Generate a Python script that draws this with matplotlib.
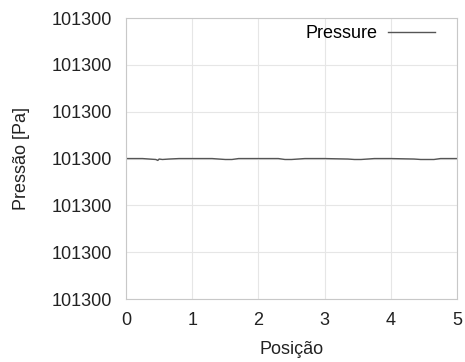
import matplotlib
matplotlib.use("Agg")
import matplotlib.pyplot as plt
import numpy as np

# pressure along the domain (Pa), nearly constant at 101300
posicao = [0.0, 0.25, 0.35, 0.45, 0.48, 0.5, 0.55, 0.65, 0.8, 1.0, 1.3, 1.4, 1.5,
           1.6, 1.7, 2.0, 2.3, 2.4, 2.5, 2.6, 2.7, 3.0, 3.35, 3.45, 3.55, 3.65,
           3.75, 4.0, 4.35, 4.45, 4.55, 4.65, 4.75, 5.0]
pressao = [101300.00000, 101300.00000, 101299.99999, 101299.99998, 101299.99996,
           101299.99999, 101299.99998, 101299.99999, 101300.00000, 101300.00000,
           101300.00000, 101299.99999, 101299.99998, 101299.99998, 101300.00000,
           101300.00000, 101300.00000, 101299.99998, 101299.99998, 101299.99999,
           101300.00000, 101300.00000, 101299.99999, 101299.99998, 101299.99998,
           101299.99999, 101300.00000, 101300.00000, 101299.99999, 101299.99998,
           101299.99998, 101299.99998, 101300.00000, 101300.00000]
y_ticks = [101299.997, 101299.998, 101299.999, 101300.0, 101300.001, 101300.002, 101300.003]
x_ticks = [0, 1, 2, 3, 4, 5]

plt.rcParams['font.family'] = ['Liberation Sans', 'DejaVu Sans']
plt.rcParams['font.size'] = 13

fig = plt.figure(figsize=(4.65, 3.62), dpi=100)
ax = fig.add_axes([0.271, 0.174, 0.712, 0.776])

ax.plot(posicao, pressao, color='#555555', lw=1.0, label='Pressure')

ax.set_xlim(0, 5)
ax.set_ylim(y_ticks[0], y_ticks[-1])
ax.set_xticks(x_ticks)
ax.set_yticks(y_ticks)
ax.set_yticklabels(['%.0f' % v for v in y_ticks])
ax.grid(True, color='#e6e6e6', lw=0.8)
ax.tick_params(length=0, colors='#222222')
ax.tick_params(axis='y', pad=10)
ax.tick_params(axis='x', pad=9)
for s in ax.spines.values():
    s.set_color('#c8c8c8')
    s.set_linewidth(0.8)

ax.set_xlabel('Posição', color='#222222', labelpad=9)
ax.set_ylabel('Pressão [Pa]', color='#222222', labelpad=16)

ax.legend(loc='upper right', frameon=False, markerfirst=False, handlelength=2.6,
          handletextpad=0.6, borderaxespad=0.0, bbox_to_anchor=(0.955, 1.0), fontsize=13)

fig.savefig('out.png', dpi=100)
